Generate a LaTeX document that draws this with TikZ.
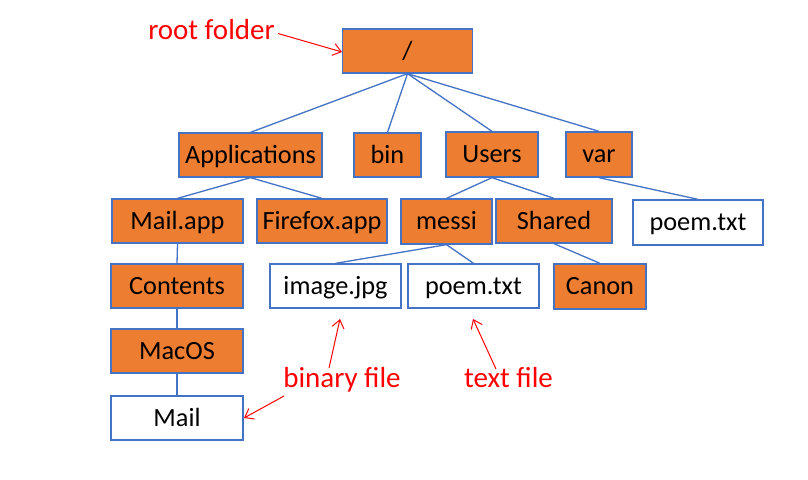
\documentclass[tikz,border=0pt]{standalone}
\usepackage{fontspec}
\setmainfont{Carlito}
\usetikzlibrary{arrows.meta}
\definecolor{obox}{HTML}{ED7D31}
\definecolor{bline}{HTML}{4472C4}
\definecolor{rtext}{HTML}{FF0000}
\begin{document}
\begin{tikzpicture}[x=1pt,y=-1pt,
  box/.style={draw=bline, line width=1.3pt, inner sep=0pt, text height=20pt, text depth=4pt, font=\fontsize{26.3}{30}\selectfont, text=black},
  folder/.style={box, fill=obox},
  file/.style={box, fill=white},
  link/.style={draw=bline, line width=1.3pt},
  note/.style={text=rtext, font=\fontsize{29}{34}\selectfont, anchor=base, inner sep=0pt},
  pointer/.style={draw=rtext, line width=1pt, -{Straight Barb[length=8pt,width=12pt,line width=1pt]}}]
\useasboundingbox (0,0) rectangle (808,479);
\fill[white] (0,0) rectangle (808,479);
% boxes
\node[folder, minimum width=130pt, minimum height=44pt] (root) at (407.5,51) {/};
\node[folder, minimum width=143pt, minimum height=44pt] (apps) at (250.5,155) {Applications};
\node[folder, minimum width=67pt, minimum height=44pt] (bin) at (387.5,155) {bin};
\node[folder, minimum width=92pt, minimum height=45pt] (users) at (492,154.5) {Users};
\node[folder, minimum width=66pt, minimum height=45pt] (var) at (599,154.5) {var};
\node[folder, minimum width=131pt, minimum height=44pt] (mailapp) at (177.5,221) {Mail.app};
\node[folder, minimum width=130pt, minimum height=44pt] (firefox) at (322,221) {Firefox.app};
\node[folder, minimum width=91pt, minimum height=45pt] (messi) at (446.5,221.5) {messi};
\node[folder, minimum width=116pt, minimum height=44pt] (shared) at (554,221) {Shared};
\node[file, minimum width=130pt, minimum height=45pt] (poemvar) at (698,222.5) {poem.txt};
\node[folder, minimum width=132pt, minimum height=44pt] (contents) at (177,286) {Contents};
\node[file, minimum width=131pt, minimum height=44pt] (image) at (335.5,286) {image.jpg};
\node[file, minimum width=131pt, minimum height=44pt] (poemmessi) at (473.5,286) {poem.txt};
\node[folder, minimum width=92pt, minimum height=45pt] (canon) at (600,286.5) {Canon};
\node[folder, minimum width=132pt, minimum height=44pt] (macos) at (177,351) {MacOS};
\node[file, minimum width=132pt, minimum height=44pt] (mail) at (177,418) {Mail};
% connectors
\draw[link] (root.south) -- (apps.north);
\draw[link] (root.south) -- (bin.north);
\draw[link] (root.south) -- (users.north);
\draw[link] (root.south) -- (var.north);
\draw[link] (apps.south) -- (mailapp.north);
\draw[link] (apps.south) -- (firefox.north);
\draw[link] (users.south) -- (messi.north);
\draw[link] (users.south) -- (shared.north);
\draw[link] (var.south) -- (poemvar.north);
\draw[link] (messi.south) -- (image.north);
\draw[link] (messi.south) -- (poemmessi.north);
\draw[link] (shared.south) -- (canon.north);
\draw[link] (mailapp.south) -- (contents.north);
\draw[link] (contents.south) -- (macos.north);
\draw[link] (macos.south) -- (mail.north);
% annotations
\node[note] (lroot) at (211.5,39) {root folder};
\node[note] (lbin) at (342,387) {binary file};
\node[note] (ltext) at (508.5,387) {text file};
\coordinate (rootA) at (278,33.5);
\coordinate (rootB) at (342,52);
\coordinate (binA) at (329,368);
\coordinate (binB) at (340,319);
\coordinate (binC) at (284,396);
\coordinate (binD) at (244,418);
\coordinate (txtA) at (496,369);
\coordinate (txtB) at (473,319);
\draw[pointer] (rootA) -- (rootB);
\draw[pointer] (binA) -- (binB);
\draw[pointer] (binC) -- (binD);
\draw[pointer] (txtA) -- (txtB);
\end{tikzpicture}
\end{document}
